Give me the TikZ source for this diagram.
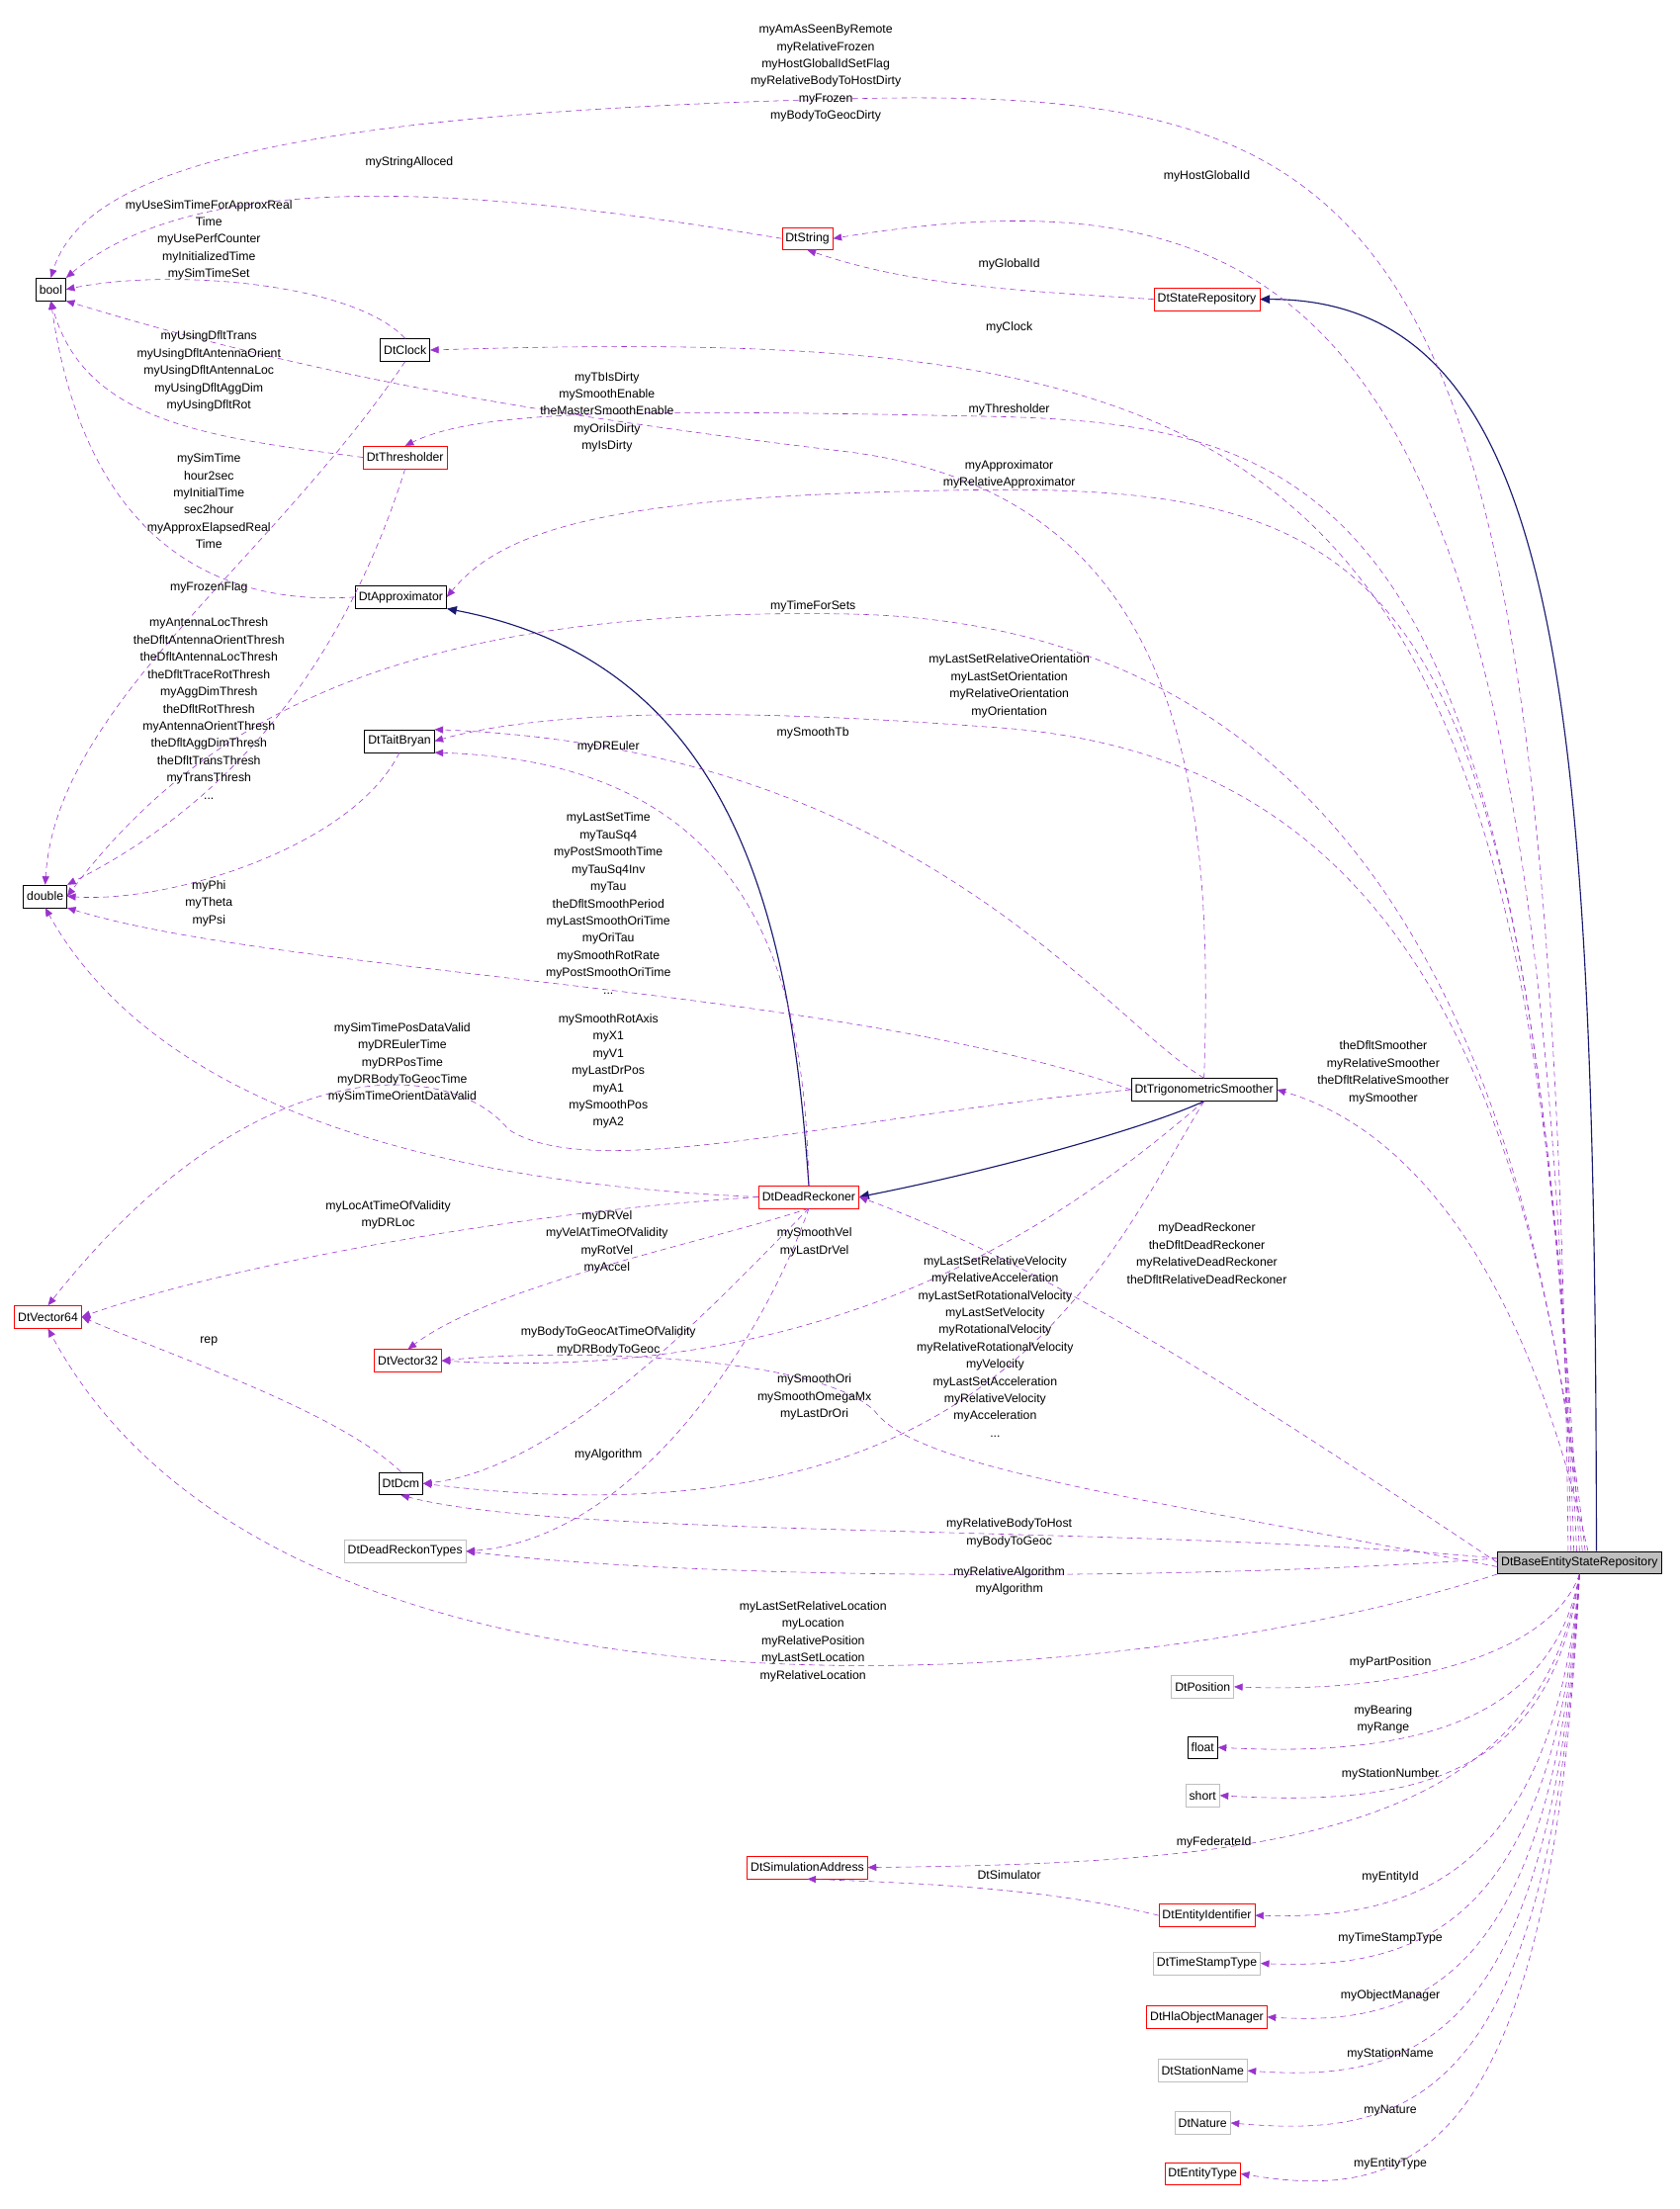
\documentclass[tikz,border=0pt]{standalone}
\usepackage{fontspec}
\setmainfont{Liberation Sans}
\usetikzlibrary{arrows.meta}
\definecolor{depcol}{HTML}{9A32CD}
\definecolor{inhcol}{HTML}{191970}
\definecolor{grayb}{HTML}{BFBFBF}
\tikzset{
  cls/.style={draw=black, fill=white, inner sep=2.5pt, minimum height=16pt, font=\fontsize{8.6}{10}\selectfont},
  redcls/.style={cls, draw=red},
  graycls/.style={cls, draw=grayb},
  dep/.style={draw=depcol, dashed, dash pattern=on 4pt off 3pt, -{Triangle[length=6pt,width=5pt]}},
  inh/.style={draw=inhcol, thick, -{Triangle[length=7pt,width=6pt]}},
  lbl/.style={align=center, inner sep=0pt, font=\fontsize{8.6}{12.2}\selectfont}
}
\begin{document}
\begin{tikzpicture}[x=1pt, y=-1pt]
\useasboundingbox (0,0) rectangle (1190,1565);
% classes
\node[cls] (bool) at (36,205) {bool};
\node[cls] (double) at (32,635) {double};
\node[redcls] (vec64) at (34,933) {DtVector64};
\node[redcls] (string) at (572,169) {DtString};
\node[redcls] (staterep) at (855,212) {DtStateRepository};
\node[cls] (clock) at (287,248) {DtClock};
\node[redcls] (thresh) at (287,324) {DtThresholder};
\node[cls] (approx) at (284,423) {DtApproximator};
\node[cls] (tait) at (283,525) {DtTaitBryan};
\node[cls] (smoother) at (853,772) {DtTrigonometricSmoother};
\node[redcls] (reckoner) at (573,848) {DtDeadReckoner};
\node[redcls] (vec32) at (289,964) {DtVector32};
\node[cls] (dcm) at (284,1051) {DtDcm};
\node[graycls] (rtypes) at (287,1099) {DtDeadReckonTypes};
\node[cls, fill=grayb] (base) at (1119,1107) {DtBaseEntityStateRepository};
\node[graycls] (position) at (852,1195) {DtPosition};
\node[cls] (float) at (852,1238) {float};
\node[graycls] (short) at (852,1272) {short};
\node[redcls] (simaddr) at (572,1323) {DtSimulationAddress};
\node[redcls] (entid) at (855,1357) {DtEntityIdentifier};
\node[graycls] (tstype) at (855,1391) {DtTimeStampType};
\node[redcls] (objmgr) at (855,1429) {DtHlaObjectManager};
\node[graycls] (stname) at (852,1467) {DtStationName};
\node[graycls] (nature) at (852,1504) {DtNature};
\node[redcls] (enttype) at (852,1540) {DtEntityType};
% inheritance
\draw[inh] ([xshift=12]base.north) .. controls (1130,500) and (1110,212) .. (staterep.east);
\draw[inh] (reckoner.north) .. controls (560,650) and (520,470) .. (approx.south east);
\draw[inh] (smoother.south) .. controls (810,800) and (700,830) .. (reckoner.east);
% members
\draw[dep] ([xshift=-8]base.north) .. controls (1100,150) and (1000,60) .. (600,70) .. controls (200,80) and (60,120) .. (bool.north);
\draw[dep] (string.west) .. controls (380,140) and (150,110) .. (bool.north east);
\draw[dep] ([xshift=-6]base.north) .. controls (1095,250) and (950,110) .. (string.east);
\draw[dep] (staterep.west) .. controls (700,205) and (640,200) .. (string.south);
\draw[dep] (clock.north) .. controls (250,200) and (120,190) .. (bool.east);
\draw[dep] ([xshift=-4]base.north) .. controls (1090,300) and (900,230) .. (clock.east);
\draw[dep] (thresh.west) .. controls (150,310) and (60,300) .. (bool.south);
\draw[dep] (smoother.north) .. controls (860,560) and (840,350) .. (600,320) .. controls (350,290) and (200,260) .. (bool.south east);
\draw[dep] ([xshift=-2]base.north) .. controls (1085,360) and (950,300) .. (700,295) .. controls (450,290) and (340,290) .. (thresh.north);
\draw[dep] ([xshift=0]base.north) .. controls (1080,420) and (1000,345) .. (700,347) .. controls (450,350) and (360,370) .. (approx.east);
\draw[dep] (clock.south) .. controls (190,400) and (40,500) .. (double.north);
\draw[dep] (approx.west) .. controls (150,430) and (60,380) .. (bool.south);
\draw[dep] (thresh.south) .. controls (250,450) and (180,560) .. (double.north east);
\draw[dep] ([xshift=2]base.north) .. controls (1080,650) and (900,440) .. (600,435) .. controls (300,430) and (150,500) .. (double.east);
\draw[dep] ([xshift=4]base.north) .. controls (1080,700) and (950,530) .. (700,515) .. controls (500,500) and (380,505) .. (tait.east);
\draw[dep] (smoother.north) .. controls (780,720) and (650,530) .. (tait.north east);
\draw[dep] (reckoner.north) .. controls (570,700) and (540,540) .. (tait.south east);
\draw[dep] (tait.south) .. controls (250,600) and (120,640) .. (double.east);
\draw[dep] (smoother.west) .. controls (600,700) and (200,690) .. (double.south east);
\draw[dep] (smoother.west) .. controls (600,790) and (420,840) .. (360,800) .. controls (320,750) and (180,740) .. (vec64.north);
\draw[dep] (reckoner.west) .. controls (350,840) and (120,800) .. (double.south);
\draw[dep] (reckoner.west) .. controls (350,860) and (150,900) .. (vec64.east);
\draw[dep] ([xshift=6]base.north) .. controls (1080,900) and (1000,800) .. (smoother.east);
\draw[dep] (base.west) .. controls (900,1000) and (750,900) .. (reckoner.east);
\draw[dep] (reckoner.south) .. controls (500,880) and (350,910) .. (vec32.north);
\draw[dep] (smoother.south) .. controls (760,860) and (600,980) .. (vec32.east);
\draw[dep] ([yshift=-3]base.west) .. controls (800,1060) and (650,1040) .. (620,1000) .. controls (580,960) and (400,955) .. (vec32.east);
\draw[dep] (dcm.north) .. controls (240,1000) and (120,960) .. (vec64.east);
\draw[dep] (reckoner.south) .. controls (510,920) and (400,1040) .. (dcm.east);
\draw[dep] (smoother.south) .. controls (780,900) and (700,1100) .. (dcm.east);
\draw[dep] (reckoner.south) .. controls (540,950) and (450,1090) .. (rtypes.east);
\draw[dep] ([yshift=3]base.west) .. controls (800,1080) and (400,1090) .. (dcm.south);
\draw[dep] ([yshift=3]base.west) .. controls (850,1120) and (500,1120) .. (rtypes.east);
\draw[dep] (base.south west) .. controls (800,1200) and (200,1250) .. (vec64.south);
\draw[dep] (base.south) .. controls (1100,1170) and (1000,1200) .. (position.east);
\draw[dep] (base.south) .. controls (1100,1220) and (1000,1245) .. (float.east);
\draw[dep] (base.south) .. controls (1100,1260) and (1000,1280) .. (short.east);
\draw[dep] (base.south) .. controls (1090,1300) and (900,1320) .. (simaddr.east);
\draw[dep] (entid.west) .. controls (750,1340) and (680,1335) .. (simaddr.south);
\draw[dep] (base.south) .. controls (1100,1330) and (1000,1360) .. (entid.east);
\draw[dep] (base.south) .. controls (1100,1370) and (1000,1395) .. (tstype.east);
\draw[dep] (base.south) .. controls (1100,1410) and (1000,1435) .. (objmgr.east);
\draw[dep] (base.south) .. controls (1100,1450) and (1000,1475) .. (stname.east);
\draw[dep] (base.south) .. controls (1100,1490) and (1000,1515) .. (nature.east);
\draw[dep] (base.south) .. controls (1100,1530) and (1000,1560) .. (enttype.east);
% labels
\node[lbl] at (585,52) {myAmAsSeenByRemote\\myRelativeFrozen\\myHostGlobalIdSetFlag\\myRelativeBodyToHostDirty\\myFrozen\\myBodyToGeocDirty};
\node[lbl] at (290,115) {myStringAlloced};
\node[lbl] at (855,125) {myHostGlobalId};
\node[lbl] at (715,187) {myGlobalId};
\node[lbl] at (148,170) {myUseSimTimeForApproxReal\\Time\\myUsePerfCounter\\myInitializedTime\\mySimTimeSet};
\node[lbl] at (715,232) {myClock};
\node[lbl] at (148,263) {myUsingDfltTrans\\myUsingDfltAntennaOrient\\myUsingDfltAntennaLoc\\myUsingDfltAggDim\\myUsingDfltRot};
\node[lbl] at (430,292) {myTbIsDirty\\mySmoothEnable\\theMasterSmoothEnable\\myOriIsDirty\\myIsDirty};
\node[lbl] at (715,290) {myThresholder};
\node[lbl] at (715,336) {myApproximator\\myRelativeApproximator};
\node[lbl] at (148,355) {mySimTime\\hour2sec\\myInitialTime\\sec2hour\\myApproxElapsedReal\\Time};
\node[lbl] at (148,416) {myFrozenFlag};
\node[lbl] at (148,502) {myAntennaLocThresh\\theDfltAntennaOrientThresh\\theDfltAntennaLocThresh\\theDfltTraceRotThresh\\myAggDimThresh\\theDfltRotThresh\\myAntennaOrientThresh\\theDfltAggDimThresh\\theDfltTransThresh\\myTransThresh\\...};
\node[lbl] at (576,430) {myTimeForSets};
\node[lbl] at (715,486) {myLastSetRelativeOrientation\\myLastSetOrientation\\myRelativeOrientation\\myOrientation};
\node[lbl] at (576,519) {mySmoothTb};
\node[lbl] at (431,529) {myDREuler};
\node[lbl] at (148,640) {myPhi\\myTheta\\myPsi};
\node[lbl] at (431,640) {myLastSetTime\\myTauSq4\\myPostSmoothTime\\myTauSq4Inv\\myTau\\theDfltSmoothPeriod\\myLastSmoothOriTime\\myOriTau\\mySmoothRotRate\\myPostSmoothOriTime\\...};
\node[lbl] at (431,759) {mySmoothRotAxis\\myX1\\myV1\\myLastDrPos\\myA1\\mySmoothPos\\myA2};
\node[lbl] at (285,753) {mySimTimePosDataValid\\myDREulerTime\\myDRPosTime\\myDRBodyToGeocTime\\mySimTimeOrientDataValid};
\node[lbl] at (275,861) {myLocAtTimeOfValidity\\myDRLoc};
\node[lbl] at (980,760) {theDfltSmoother\\myRelativeSmoother\\theDfltRelativeSmoother\\mySmoother};
\node[lbl] at (855,888) {myDeadReckoner\\theDfltDeadReckoner\\myRelativeDeadReckoner\\theDfltRelativeDeadReckoner};
\node[lbl] at (430,880) {myDRVel\\myVelAtTimeOfValidity\\myRotVel\\myAccel};
\node[lbl] at (577,880) {mySmoothVel\\myLastDrVel};
\node[lbl] at (705,954) {myLastSetRelativeVelocity\\myRelativeAcceleration\\myLastSetRotationalVelocity\\myLastSetVelocity\\myRotationalVelocity\\myRelativeRotationalVelocity\\myVelocity\\myLastSetAcceleration\\myRelativeVelocity\\myAcceleration\\...};
\node[lbl] at (148,950) {rep};
\node[lbl] at (431,950) {myBodyToGeocAtTimeOfValidity\\myDRBodyToGeoc};
\node[lbl] at (577,990) {mySmoothOri\\mySmoothOmegaMx\\myLastDrOri};
\node[lbl] at (431,1031) {myAlgorithm};
\node[lbl] at (715,1086) {myRelativeBodyToHost\\myBodyToGeoc};
\node[lbl] at (715,1120) {myRelativeAlgorithm\\myAlgorithm};
\node[lbl] at (576,1163) {myLastSetRelativeLocation\\myLocation\\myRelativePosition\\myLastSetLocation\\myRelativeLocation};
\node[lbl] at (985,1178) {myPartPosition};
\node[lbl] at (980,1218) {myBearing\\myRange};
\node[lbl] at (985,1257) {myStationNumber};
\node[lbl] at (860,1305) {myFederateId};
\node[lbl] at (715,1328) {DtSimulator};
\node[lbl] at (985,1330) {myEntityId};
\node[lbl] at (985,1373) {myTimeStampType};
\node[lbl] at (985,1414) {myObjectManager};
\node[lbl] at (985,1455) {myStationName};
\node[lbl] at (985,1495) {myNature};
\node[lbl] at (985,1533) {myEntityType};
\end{tikzpicture}
\end{document}
